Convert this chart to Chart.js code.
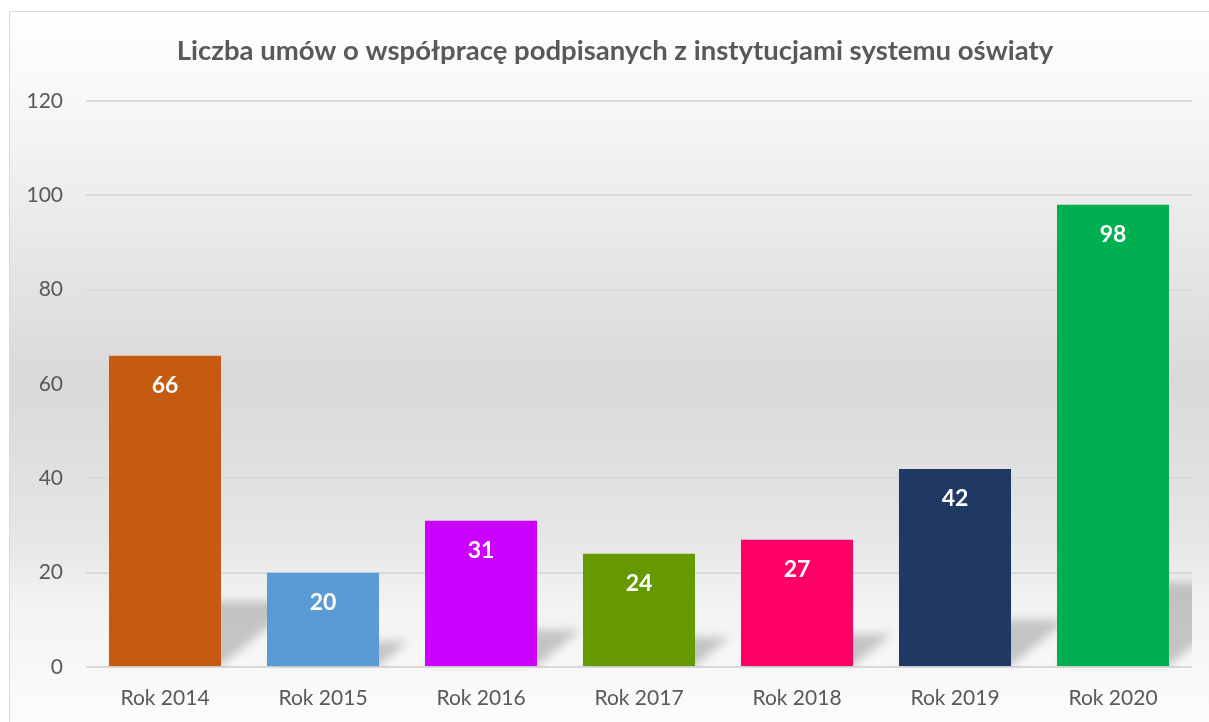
<!DOCTYPE html>
<html lang="pl">
<head>
<meta charset="utf-8">
<title>Liczba umów o współpracę</title>
<script src="https://cdn.jsdelivr.net/npm/chart.js@4.4.1/dist/chart.umd.min.js"></script>
<style>
  html, body { margin: 0; padding: 0; background: #ffffff; }
  #wrap { position: relative; width: 1209px; height: 722px; }
</style>
</head>
<body>
<div id="wrap"><canvas id="chart" width="1209" height="722"></canvas></div>
<script>
// Agreements signed with education institutions, per year
const years = ['Rok 2014', 'Rok 2015', 'Rok 2016', 'Rok 2017', 'Rok 2018', 'Rok 2019', 'Rok 2020'];
const agreements = [66, 20, 31, 24, 27, 42, 98];
const barColors = ['#C55A11', '#5B9BD5', '#CC00FF', '#669900', '#FF0066', '#203864', '#00B050'];
const yTicks = [0, 20, 40, 60, 80, 100, 120];
const chartTitle = 'Liczba umów o współpracę podpisanych z instytucjami systemu oświaty';

const FONT = 'Lato, "Open Sans", "Liberation Sans", sans-serif';
const TEXT_GREY = '#595959';

// Frame and soft vertical gradient behind the whole chart
const backdrop = {
  id: 'backdrop',
  beforeDraw(chart) {
    const ctx = chart.ctx;
    const w = chart.width, h = chart.height;
    ctx.save();
    const g = ctx.createLinearGradient(0, 11, 0, h);
    g.addColorStop(0.00, '#ffffff');
    g.addColorStop(0.12, '#f8f8f8');
    g.addColorStop(0.52, '#d9d9d9');
    g.addColorStop(0.74, '#e6e6e6');
    g.addColorStop(0.84, '#f3f3f3');
    g.addColorStop(1.00, '#fcfcfc');
    ctx.fillStyle = g;
    ctx.fillRect(9, 11, w, h);
    ctx.strokeStyle = '#d9d9d9';
    ctx.lineWidth = 1;
    ctx.beginPath();
    ctx.moveTo(9.5, h + 2);
    ctx.lineTo(9.5, 11.5);
    ctx.lineTo(w + 2, 11.5);
    ctx.stroke();
    ctx.restore();
  }
};

// Chart heading, centred on the frame
const heading = {
  id: 'heading',
  afterDraw(chart) {
    const ctx = chart.ctx;
    ctx.save();
    ctx.font = 'bold 27.5px ' + FONT;
    ctx.fillStyle = TEXT_GREY;
    ctx.textAlign = 'center';
    ctx.textBaseline = 'middle';
    ctx.fillText(chartTitle, 615, 51);
    ctx.restore();
  }
};

// Skewed, blurred perspective shadow cast by each bar onto the back wall
const barShadows = {
  id: 'barShadows',
  beforeDatasetsDraw(chart) {
    const ctx = chart.ctx;
    const area = chart.chartArea;
    const meta = chart.getDatasetMeta(0);
    ctx.save();
    ctx.beginPath();
    ctx.rect(area.left, area.top, area.right - area.left, area.bottom - area.top);
    ctx.clip();
    ctx.filter = 'blur(5px)';
    ctx.fillStyle = 'rgba(0,0,0,0.20)';
    meta.data.forEach(bar => {
      const p = bar.getProps(['x', 'y', 'base', 'width'], true);
      const left = p.x - p.width / 2, right = p.x + p.width / 2;
      const hgt = p.base - p.y;
      const dy = hgt * 0.3 / (1 + hgt / 700);
      const dx = dy * 1.2;
      ctx.beginPath();
      ctx.moveTo(left, p.base);
      ctx.lineTo(right, p.base);
      ctx.lineTo(right + dx, p.base - dy);
      ctx.lineTo(left + dx, p.base - dy);
      ctx.closePath();
      ctx.fill();
    });
    ctx.restore();
  }
};

// Value written in white near the top of each bar
const valueLabels = {
  id: 'valueLabels',
  afterDatasetsDraw(chart) {
    const ctx = chart.ctx;
    const ds = chart.data.datasets[0];
    const meta = chart.getDatasetMeta(0);
    ctx.save();
    ctx.font = 'bold 23px ' + FONT;
    ctx.fillStyle = '#ffffff';
    ctx.textAlign = 'center';
    ctx.textBaseline = 'middle';
    meta.data.forEach((bar, i) => {
      const p = bar.getProps(['x', 'y'], true);
      ctx.fillText(String(ds.data[i]), p.x, p.y + 30);
    });
    ctx.restore();
  }
};

new Chart(document.getElementById('chart'), {
  type: 'bar',
  data: {
    labels: years,
    datasets: [{
      data: agreements,
      backgroundColor: barColors,
      borderWidth: 0,
      categoryPercentage: 1.0,
      barPercentage: 0.709
    }]
  },
  options: {
    responsive: false,
    animation: false,
    events: [],
    layout: { padding: { left: 9, right: 17, top: 101, bottom: 0 } },
    plugins: {
      legend: { display: false },
      tooltip: { enabled: false },
      title: { display: false }
    },
    scales: {
      x: {
        afterFit(scale) { scale.height = 55; },
        grid: { display: false, drawTicks: false },
        border: { display: false },
        ticks: {
          color: TEXT_GREY,
          font: { family: FONT, size: 21, lineHeight: 1.2 },
          padding: 19,
          maxRotation: 0
        }
      },
      y: {
        min: 0,
        max: 120,
        afterFit(scale) { scale.width = 77; },
        afterBuildTicks(scale) { scale.ticks = yTicks.map(v => ({ value: v })); },
        grid: { color: '#d9d9d9', lineWidth: 2, drawTicks: false },
        border: { display: false },
        ticks: {
          color: TEXT_GREY,
          font: { family: FONT, size: 21 },
          padding: 23
        }
      }
    }
  },
  plugins: [backdrop, barShadows, valueLabels, heading]
});
</script>
</body>
</html>
